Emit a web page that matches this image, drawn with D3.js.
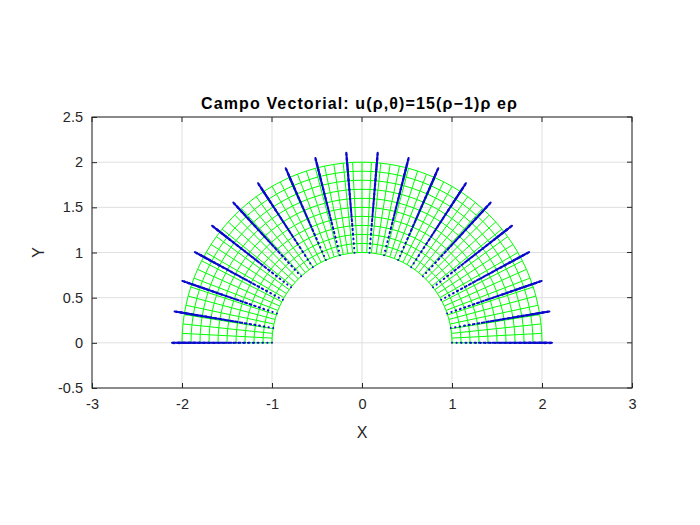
<!DOCTYPE html>
<html>
<head>
<meta charset="utf-8">
<script src="https://cdn.jsdelivr.net/npm/d3@7"></script>
<style>
body{margin:0;background:#fff;}
text{font-family:"Liberation Sans",Arial,sans-serif;}
</style>
</head>
<body>
<script>
// radial samples of the quiver (rho) and field magnitude u = 15(rho-1)rho
var rhoVals = [1.00,1.05,1.10,1.15,1.20,1.25,1.30,1.35,1.40,1.45,1.50,1.55,1.60,1.65,1.70,1.75,1.80,1.85,1.90,1.95,2.00];
var uVals = [0,0.7875,1.65,2.5875,3.6,4.6875,5.85,7.0875,8.4,9.7875,11.25,12.7875,14.4,16.0875,17.85,19.6875,21.6,23.5875,25.65,27.7875,30];
// quiver ray angles (degrees)
var thetaDeg = [0,9.47,18.95,28.42,37.89,47.37,56.84,66.32,75.79,85.26,94.74,104.21,113.68,123.16,132.63,142.11,151.58,161.05,170.53,180];
// mesh circles and mesh spokes
var meshRho = [1,1.1,1.2,1.3,1.4,1.5,1.6,1.7,1.8,1.9,2];
var meshDeg = [0,3,6,9,12,15,18,21,24,27,30,33,36,39,42,45,48,51,54,57,60,63,66,69,72,75,78,81,84,87,90,
               93,96,99,102,105,108,111,114,117,120,123,126,129,132,135,138,141,144,147,150,153,156,159,162,165,168,171,174,177,180];
var xTicks = [-3,-2,-1,0,1,2,3];
var yTicks = [-0.5,0,0.5,1,1.5,2,2.5];
var arrowScale = 0.0037;

var w = 700, h = 525;
var pL = 92, pR = 632, pT = 117, pB = 388;

var svg = d3.select("body").append("svg").attr("width",w).attr("height",h);

var x = d3.scaleLinear().domain([-3,3]).range([pL,pR]);
var y = d3.scaleLinear().domain([-0.5,2.5]).range([pB,pT]);

// grid
svg.selectAll("line.gx").data(xTicks).enter().append("line")
	.attr("x1",d=>x(d)).attr("x2",d=>x(d)).attr("y1",pT).attr("y2",pB)
	.attr("stroke","#dfdfdf").attr("stroke-width",1);
svg.selectAll("line.gy").data(yTicks).enter().append("line")
	.attr("y1",d=>y(d)).attr("y2",d=>y(d)).attr("x1",pL).attr("x2",pR)
	.attr("stroke","#dfdfdf").attr("stroke-width",1);

var plot = svg.append("g");
var rad = d => d*Math.PI/180;

// mesh
var circ = d3.line().x(t=>x(t[0]*Math.cos(rad(t[1])))).y(t=>y(t[0]*Math.sin(rad(t[1]))));
meshRho.forEach(function(r){
	plot.append("path").attr("d",circ(meshDeg.map(t=>[r,t])))
		.attr("fill","none").attr("stroke","#00ff00").attr("stroke-width",1);
});
meshDeg.forEach(function(t){
	plot.append("path").attr("d",circ(meshRho.map(r=>[r,t])))
		.attr("fill","none").attr("stroke","#00ff00").attr("stroke-width",1);
});

// quiver
var arrows = [];
thetaDeg.forEach(function(t){
	rhoVals.forEach(function(r,i){
		arrows.push({x:r*Math.cos(rad(t)), y:r*Math.sin(rad(t)),
			u:arrowScale*uVals[i]*Math.cos(rad(t)), v:arrowScale*uVals[i]*Math.sin(rad(t))});
	});
});
var qg = plot.append("g").attr("stroke","#0a0acd").attr("stroke-width",2).attr("fill","none").attr("stroke-linecap","round");
qg.selectAll("path").data(arrows).enter().append("path")
	.attr("d",function(d){
		var tx = d.x+d.u, ty = d.y+d.v;
		var a = 0.22, b = 0.15;
		var h1x = tx - a*(d.u + b*(d.v)), h1y = ty - a*(d.v - b*(d.u));
		var h2x = tx - a*(d.u - b*(d.v)), h2y = ty - a*(d.v + b*(d.u));
		return "M"+x(d.x)+","+y(d.y)+"L"+x(tx)+","+y(ty)+
			"M"+x(h1x)+","+y(h1y)+"L"+x(tx)+","+y(ty)+"L"+x(h2x)+","+y(h2y);
	});

// axes box
svg.append("rect").attr("x",pL).attr("y",pT).attr("width",pR-pL).attr("height",pB-pT)
	.attr("fill","none").attr("stroke","#262626").attr("stroke-width",1);

var xAxis = d3.axisBottom(x).tickValues(xTicks).tickSize(-5).tickPadding(11).tickFormat(d=>String(d));
var yAxis = d3.axisLeft(y).tickValues(yTicks).tickSize(-5).tickPadding(9).tickFormat(d=>String(d));
var gx = svg.append("g").attr("transform","translate(0,"+pB+")").call(xAxis);
var gy = svg.append("g").attr("transform","translate("+pL+",0)").call(yAxis);
[gx,gy].forEach(function(g){
	g.select(".domain").remove();
	g.selectAll("line").attr("stroke","#262626");
	g.selectAll("text").attr("fill","#262626").style("font-size","14.5px").style("font-family","'Liberation Sans',Arial,sans-serif");
});
// top/right ticks
svg.selectAll("line.tt").data(xTicks).enter().append("line")
	.attr("x1",d=>x(d)).attr("x2",d=>x(d)).attr("y1",pT).attr("y2",pT+5).attr("stroke","#262626");
svg.selectAll("line.tr").data(yTicks).enter().append("line")
	.attr("y1",d=>y(d)).attr("y2",d=>y(d)).attr("x1",pR).attr("x2",pR-5).attr("stroke","#262626");

svg.append("text").attr("x",(pL+pR)/2).attr("y",438).attr("text-anchor","middle")
	.attr("fill","#262626").style("font-size","16px").text("X");
svg.append("text").attr("transform","translate(44,"+((pT+pB)/2)+") rotate(-90)").attr("text-anchor","middle")
	.attr("fill","#262626").style("font-size","16px").text("Y");
svg.append("text").attr("x",(pL+pR)/2 - 3).attr("y",109).attr("text-anchor","middle")
	.attr("fill","#000").style("font-size","16px").style("font-weight","bold")
	.attr("textLength",316).attr("lengthAdjust","spacing")
	.text("Campo Vectorial: u(\u03c1,\u03b8)=15(\u03c1\u22121)\u03c1 e\u03c1");
</script>
</body>
</html>
